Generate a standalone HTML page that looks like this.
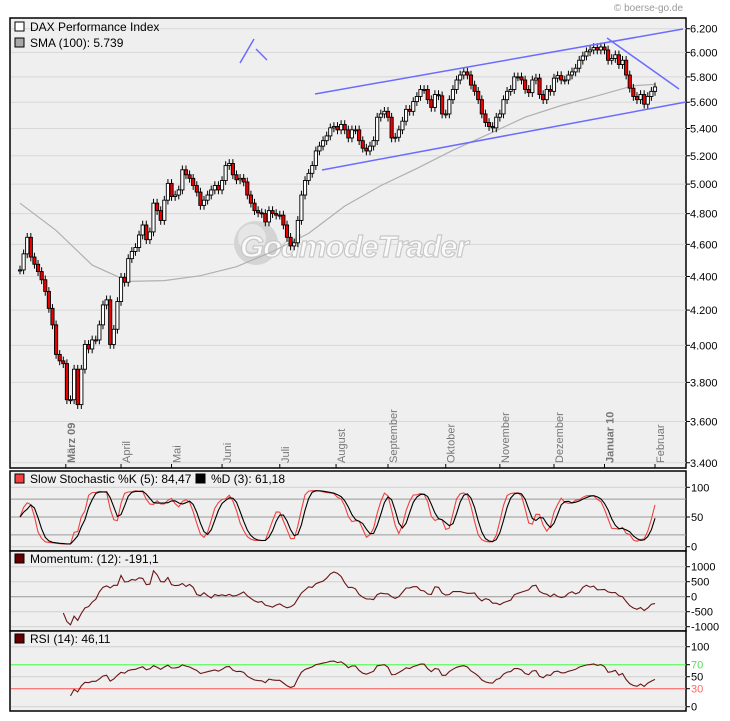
<!DOCTYPE html>
<html><head><meta charset="utf-8"><style>
html,body{margin:0;padding:0;background:#fff;}
svg{display:block;font-family:"Liberation Sans",sans-serif;}
</style></head><body>
<svg id="chart" width="730" height="721" viewBox="0 0 730 721">
<text x="683" y="11" font-size="10" fill="#999" text-anchor="end">© boerse-go.de</text>
<g id="panels"></g>
<g id="main"></g>
<g id="subs"></g>
</svg>
<script>
const closes=[4440,4540,4645,4520,4475,4430,4380,4310,4210,4115,3950,3915,3900,3710,3710,3870,3685,3870,4005,3980,
4030,4030,4115,4230,4260,4005,4090,4250,4395,4365,4510,4555,4580,4660,4725,4630,4680,4870,4820,4755,
4890,5005,4915,4925,4960,5100,5065,5040,4990,4945,4855,4890,4925,4960,4990,4960,5025,5130,5145,5065,
5030,5040,5015,4925,4870,4820,4805,4800,4745,4820,4800,4790,4790,4725,4645,4590,4610,4755,4925,5025,
5075,5130,5235,5270,5310,5345,5405,5415,5390,5430,5390,5330,5390,5390,5310,5255,5235,5270,5310,5485,
5510,5530,5485,5330,5335,5390,5455,5545,5530,5605,5645,5700,5700,5620,5560,5660,5650,5510,5510,5620,
5700,5775,5815,5840,5815,5735,5685,5620,5510,5445,5415,5405,5485,5510,5620,5685,5700,5800,5800,5775,
5700,5675,5775,5790,5660,5620,5700,5685,5790,5810,5775,5775,5815,5840,5870,5935,5970,6005,6020,6040,
6020,6045,6020,5935,5950,5980,5900,5935,5815,5710,5645,5620,5660,5585,5645,5685,5720];
const smaValues=[4870,4690,4470,4370,4375,4405,4460,4555,4670,4850,4990,5110,5240,5360,5485,5575,5650,5730,5740];
const smaStep=10;
const priceTicks=[6200,6000,5800,5600,5400,5200,5000,4800,4600,4400,4200,4000,3800,3600,3400];
const monthLabels=["März 09","April","Mai","Juni","Juli","August","September","Oktober","November","Dezember","Januar 10","Februar"];
const monthIdx=[12.7,28,42,56,72,87.6,102,118,133,148,162,176];
const monthBold=[true,false,false,false,false,false,false,false,false,false,true,false];
const stochTicks=[100,50,0];
const momTicks=[1000,500,0,-500,-1000];
const rsiTicks=[100,70,50,30,0];

const NS="http://www.w3.org/2000/svg";
function mk(tag,attrs,parent){const e=document.createElementNS(NS,tag);for(const k in attrs)e.setAttribute(k,attrs[k]);parent.appendChild(e);return e;}
const N=closes.length;
const X0=20,X1=655;
const xOf=i=>X0+i*(X1-X0)/(N-1);
const yP=p=>28.7+722.5*Math.log(6200/p);
const yS=v=>546.7-v*0.594;
const yM=v=>596.7-v*0.03;
const yR=v=>706.7-v*0.6;
const L=10,R=686;
const panels=document.getElementById('panels');
const main=document.getElementById('main');
const subs=document.getElementById('subs');
const opens=closes.map((c,i)=>i?closes[i-1]:c);
const highs=closes.map((c,i)=>Math.max(c,opens[i])*1.006);
const lows=closes.map((c,i)=>Math.min(c,opens[i])*0.994);

[[18,468,'main-panel'],[471,551,'stochastic-panel'],[551,631,'momentum-panel'],[631,711,'rsi-panel']].forEach(p=>{
  const r=mk('rect',{x:L,y:p[0],width:R-L,height:p[1]-p[0],fill:'#efefef',stroke:'#000','stroke-width':1.5},panels);
  
  
});

priceTicks.forEach(t=>{
  const y=yP(t);
  const l=mk('line',{x1:L+1,x2:R,y1:y,y2:y,stroke:'#d8d8d8','stroke-width':1},main);
  
  
  mk('line',{x1:R,x2:R+4,y1:y,y2:y,stroke:'#000'},main);
  const tx=mk('text',{x:R+4,y:y+4,'font-size':11,fill:'#000'},main);
  tx.textContent=t.toLocaleString('de-DE').replace(',','.');
  
  
});

const wm=mk('g',{},main);


mk('circle',{cx:256,cy:243,r:22,fill:'#d4d4d4'},wm);
mk('circle',{cx:252,cy:238,r:14,fill:'#e6e6e6'},wm);
const wt=mk('text',{x:240,y:257,'font-size':31,'font-weight':'bold','font-style':'italic',fill:'#fafafa',stroke:'#c8c8c8','stroke-width':1.2,'letter-spacing':'-1'},wm);
wt.textContent='GodmodeTrader';

monthLabels.forEach((m,k)=>{
  const x=xOf(monthIdx[k]);
  mk('line',{x1:x,x2:x,y1:464,y2:468,stroke:'#000'},main);
  const t=mk('text',{x:0,y:0,'font-size':11,fill:'#777','font-weight':monthBold[k]?'bold':'normal',transform:`translate(${x+9},463) rotate(-90)`},main);
  t.textContent=m;
  
  
});

let sp='';
smaValues.forEach((v,k)=>{const i=Math.min(k*smaStep,N-1);sp+=(k?'L':'M')+xOf(i).toFixed(1)+','+yP(v).toFixed(1);});
const sma=mk('path',{d:sp,fill:'none',stroke:'#b0b0b0','stroke-width':1.2},main);



closes.forEach((c,i)=>{
  const o=opens[i];
  const x=xOf(i);
  const yo=yP(o),yc=yP(c);
  const top=Math.min(yo,yc),bot=Math.max(yo,yc);
  const g=mk('g',{},main);
  
  
  mk('line',{x1:x,x2:x,y1:yP(highs[i]),y2:yP(lows[i]),stroke:'#000','stroke-width':1},g);
  mk('rect',{x:x-1.6,y:top,width:3.2,height:Math.max(bot-top,1),fill:c<o?'#e00':'#fff',stroke:'#000','stroke-width':0.9},g);
});

[[315,94,683,29,'upper-channel-line'],[322,170,686,102,'lower-channel-line'],[607,38,679,89,'downtrend-line'],[240,63,254,39,'annotation-stroke-1'],[256,49,267,60,'annotation-stroke-2']].forEach(a=>{
  const l=mk('line',{x1:a[0],y1:a[1],x2:a[2],y2:a[3],stroke:'#6b6bff','stroke-width':1.5},main);
  
  
});

function legend(parent,x,y,fill,label,name){
  const g=mk('g',{},parent);
  
  
  mk('rect',{x:x,y:y-9,width:9,height:9,fill:fill,stroke:'#000','stroke-width':1},g);
  const t=mk('text',{x:x+15,y:y,'font-size':12,fill:'#000'},g);
  t.textContent=label;
}
legend(main,15,31,'#fff','DAX Performance Index','legend-dax');
legend(main,15,47,'#a8a8a8','SMA (100): 5.739','legend-sma');

const kP=5;
const rawK=closes.map((c,i)=>{const a=Math.max(0,i-kP+1);const lo=Math.min(...lows.slice(a,i+1)),hi=Math.max(...highs.slice(a,i+1));return hi>lo?(c-lo)/(hi-lo)*100:50;});
const sma3=a=>a.map((v,i)=>{const s=a.slice(Math.max(0,i-2),i+1);return s.reduce((p,q)=>p+q,0)/s.length;});
const slowK=sma3(rawK);
const slowD=sma3(slowK);
const mP=12;
const mom=closes.map((c,i)=>i>=mP?c-closes[i-mP]:null);
const rP=14;
const rsi=[];let ag=0,al=0;
closes.forEach((c,i)=>{
  if(i===0){rsi.push(null);return;}
  const d=c-closes[i-1],g=Math.max(d,0),l=Math.max(-d,0);
  if(i<=rP){ag+=g/rP;al+=l/rP;rsi.push(i===rP?100-100/(1+ag/(al||1e-9)):null);}
  else{ag=(ag*(rP-1)+g)/rP;al=(al*(rP-1)+l)/rP;rsi.push(100-100/(1+ag/(al||1e-9)));}
});

function grid(vals,yf,dark,name,labels){
  vals.forEach(v=>{
    const y=yf(v);
    const l=mk('line',{x1:L+1,x2:R,y1:y,y2:y,stroke:dark.includes(v)?'#999':'#d0d0d0','stroke-width':1},subs);
    
    
    if(labels.includes(v)){
      mk('line',{x1:R,x2:R+4,y1:y,y2:y,stroke:'#000'},subs);
    }
  });
}
function tickLabels(vals,yf,name,colorFn){
  vals.forEach(v=>{
    const t=mk('text',{x:R+5,y:yf(v)+4,'font-size':11,fill:colorFn?colorFn(v):'#000'},subs);
    t.textContent=String(v);
    
    
  });
}
function line(arr,yf,color,name,w){
  let d='',st=false;
  arr.forEach((v,i)=>{if(v===null)return;d+=(st?'L':'M')+xOf(i).toFixed(1)+','+yf(v).toFixed(1);st=true;});
  const p=mk('path',{d:d,fill:'none',stroke:color,'stroke-width':w||1.1},subs);
  
  
}
grid([100,80,50,20,0],yS,[80,50,20],'stochastic',stochTicks);
tickLabels(stochTicks,yS,'stochastic');
line(slowK,yS,'#f04040','stochastic-k-line');
line(slowD,yS,'#000','stochastic-d-line');
legend(subs,15,483,'#f04040','Slow Stochastic %K (5): 84,47','legend-stoch-k');
legend(subs,196,483,'#000','%D (3): 61,18','legend-stoch-d');
grid(momTicks,yM,[0],'momentum',momTicks);
tickLabels(momTicks,yM,'momentum');
line(mom,yM,'#6a1515','momentum-line');
legend(subs,15,563,'#600','Momentum: (12): -191,1','legend-momentum');
grid([100,50,0],yR,[],'rsi',rsiTicks);
[[70,'#4f4'],[30,'#f55']].forEach(a=>{
  const l=mk('line',{x1:L+1,x2:R,y1:yR(a[0]),y2:yR(a[0]),stroke:a[1],'stroke-width':1},subs);
  
  
  mk('line',{x1:R,x2:R+4,y1:yR(a[0]),y2:yR(a[0]),stroke:'#000'},subs);
});
tickLabels(rsiTicks,yR,'rsi',v=>v===70?'#5d5':v===30?'#f66':'#000');
line(rsi,yR,'#6a1515','rsi-line');
legend(subs,15,643,'#600','RSI (14): 46,11','legend-rsi');
</script>
</body></html>
